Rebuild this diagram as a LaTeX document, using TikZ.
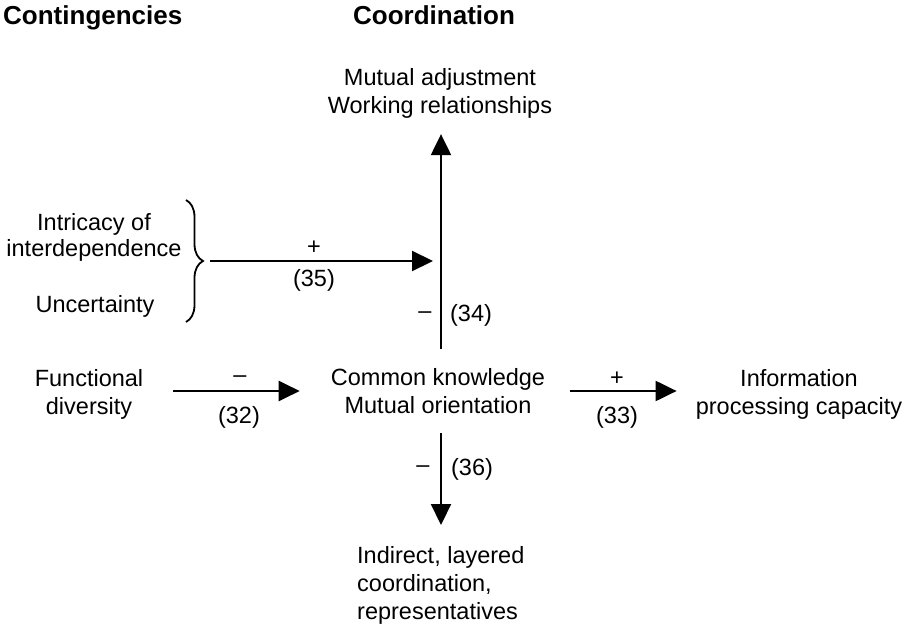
\documentclass[tikz,border=0pt]{standalone}
\usepackage{fontspec}
\setmainfont{Liberation Sans}
\usetikzlibrary{arrows.meta,decorations.pathreplacing,calc}
\begin{document}
\begin{tikzpicture}[x=1pt,y=-1pt,
  txt/.style={inner sep=0pt,align=center,font=\fontsize{23.5}{28}\selectfont},
  head/.style={inner sep=0pt,anchor=base west,font=\fontsize{26}{30}\selectfont\bfseries},
  lbl/.style={inner sep=0pt,font=\fontsize{23.5}{28}\selectfont},
  arr/.style={line width=2.2pt,-{Triangle[length=21pt,width=20pt]}},
  bracestyle/.style={line width=1.8pt,decorate,decoration={brace,amplitude=17pt,aspect=0.5}},
]
\useasboundingbox (0,0) rectangle (924,626);

% column headings
\node[head] (hcont) at (3,25) {Contingencies};
\node[head] (hcoord) at (353,25) {Coordination};

% concepts
\node[txt] (mutual) at (440,93) {Mutual adjustment\\Working relationships};
\node[txt] (common) at (438,391) {Common knowledge\\Mutual orientation};
\node[txt] (func) at (89,394) {Functional\\diversity};
\node[txt] (info) at (799,394) {Information\\processing capacity};
\node[txt,font=\fontsize{23.5}{26}\selectfont] (intric) at (94,237) {Intricacy of\\interdependence};
\node[txt] (uncert) at (95,306) {Uncertainty};
\node[txt,align=left,anchor=north west] (indirect) at (357,546) {Indirect, layered\\coordination,\\representatives};

% vertical axis through the coordination column
\coordinate (axis) at (441,0);

% brace grouping the two contingencies
\coordinate (bracetop) at (186,200);
\coordinate (bracebot) at (186,322);
\draw[bracestyle] (bracetop) -- (bracebot);
\coordinate (bracetip) at ($(bracetop)!0.5!(bracebot)+(17,0)$);

% relations
\draw[arr] ($(axis |- common.north)+(0,-19)$) -- ($(axis |- mutual.south)+(0,16)$);
\draw[arr] ($(axis |- common.south)+(0,19)$) -- ($(axis |- indirect.north)+(0,-21)$);
\draw[arr] ($(bracetip)+(7,0)$) -- ($(axis |- bracetip)+(-8,0)$);
\draw[arr] ($(func.east |- common.west)+(30,0)$) -- ($(common.west)+(-31,0)$);
\draw[arr] ($(common.east)+(25,0)$) -- ($(info.west |- common.east)+(-19,0)$);

% signs and equation numbers
\node[lbl] (s35) at (314,248) {+};
\node[lbl] (n35) at (314,280) {(35)};
\node[lbl] (s34) at (425,315) {–};
\node[lbl] (n34) at (471,315) {(34)};
\node[lbl] (s32) at (240,379) {–};
\node[lbl] (n32) at (239,417) {(32)};
\node[lbl] (s33) at (617,379) {+};
\node[lbl] (n33) at (617,417) {(33)};
\node[lbl] (s36) at (423,469) {–};
\node[lbl] (n36) at (472,469) {(36)};
\end{tikzpicture}
\end{document}
